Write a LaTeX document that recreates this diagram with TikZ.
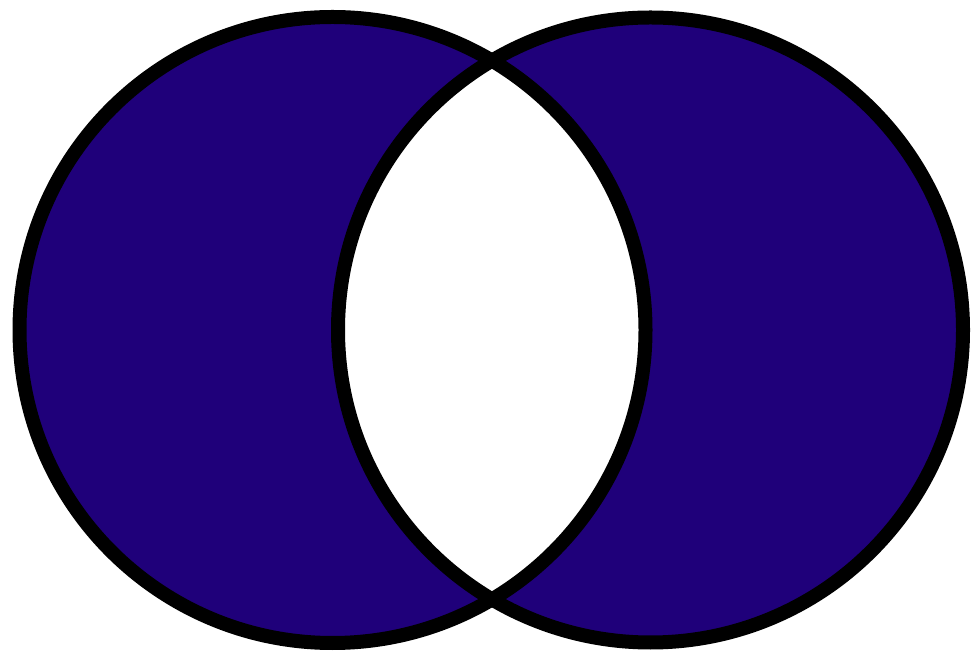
\documentclass[tikz,border=0pt]{standalone}
\definecolor{venn}{RGB}{31,0,122}
\begin{document}
\begin{tikzpicture}[x=1pt,y=1pt]
\useasboundingbox (0,0) rectangle (974,653);
\coordinate (cl) at (332.5,323);
\coordinate (cr) at (650.5,323);
\fill[venn,even odd rule] (cl) circle[radius=313] (cr) circle[radius=312.5];
\draw[line width=14pt] (cl) circle[radius=313];
\draw[line width=14pt] (cr) circle[radius=312.5];
\end{tikzpicture}
\end{document}
